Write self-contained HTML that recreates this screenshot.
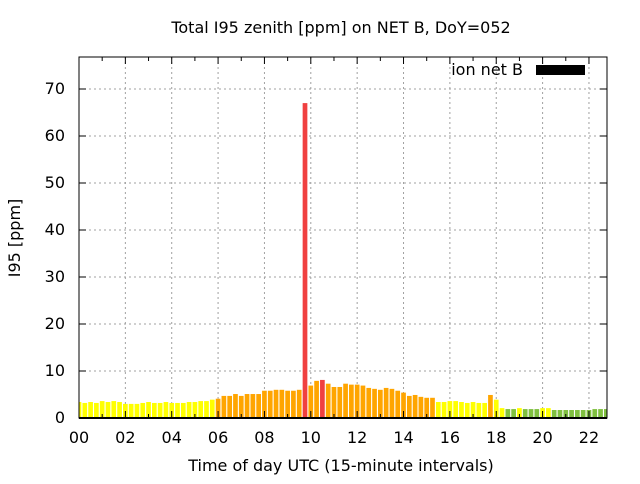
<!DOCTYPE html>
<html><head><meta charset="utf-8"><style>
body{margin:0;background:#fff;font-family:"DejaVu Sans",sans-serif;}
svg text{font-family:"DejaVu Sans",sans-serif;fill:#000;}
</style></head><body>
<svg id="chart" width="640" height="480" viewBox="0 0 640 480" xmlns="http://www.w3.org/2000/svg">
<rect width="640" height="480" fill="#fff"/>
<text x="341" y="33" font-size="16" text-anchor="middle">Total I95 zenith [ppm] on NET B, DoY=052</text>
<text x="20" y="238" font-size="16" text-anchor="middle" transform="rotate(-90 20 238)">I95 [ppm]</text>
<text x="341" y="471" font-size="16" text-anchor="middle">Time of day UTC (15-minute intervals)</text>
<g id="grid"></g>
<defs><clipPath id="pc"><rect x="79" y="57" width="528" height="361"/></clipPath></defs>
<g id="bars" clip-path="url(#pc)"></g>
<g id="axes"></g>
<text x="523" y="75" font-size="16" text-anchor="end">ion net B</text>
<rect x="536" y="65" width="49" height="10" fill="#000"/>
</svg>
<script>
const values=[3.4,3.2,3.4,3.2,3.6,3.4,3.6,3.4,3.0,3.0,3.0,3.2,3.4,3.2,3.2,3.4,3.2,3.2,3.2,3.4,3.4,3.6,3.6,3.9,
4.1,4.7,4.7,5.1,4.7,5.1,5.1,5.1,5.8,5.8,6.0,6.0,5.8,5.8,6.0,67.0,6.9,7.9,8.1,7.3,6.6,6.6,7.3,7.1,7.1,6.9,
6.4,6.2,6.0,6.4,6.2,5.8,5.4,4.7,4.9,4.5,4.3,4.3,3.4,3.4,3.6,3.6,3.4,3.2,3.4,3.2,3.2,4.9,3.9,2.1,1.9,1.9,
2.1,1.9,1.9,1.9,2.1,2.1,1.7,1.7,1.7,1.7,1.7,1.7,1.7,1.9,1.9,1.9];
const yTicks=[0,10,20,30,40,50,60,70];
const xTicks=["00","02","04","06","08","10","12","14","16","18","20","22"];
const L=79,R=607,T=57,B=418,pxH=23.18,pxV=4.7;
const xs=h=>L+h*pxH, ys=v=>B-v*pxV;
const NS="http://www.w3.org/2000/svg";
function mk(t,a,p){const e=document.createElementNS(NS,t);for(const k in a)e.setAttribute(k,a[k]);p.appendChild(e);return e;}
const grid=document.getElementById('grid'),axes=document.getElementById('axes'),bars=document.getElementById('bars');
yTicks.forEach(v=>{const y=ys(v);
 if(v>0){const g=mk('line',{x1:L,x2:R,y1:y,y2:y,stroke:'#a0a0a0','stroke-dasharray':'2,3'},grid);
 
 }
 mk('line',{x1:L,x2:L+7,y1:y,y2:y,stroke:'#000'},axes);mk('line',{x1:R,x2:R-7,y1:y,y2:y,stroke:'#000'},axes);
 const t=mk('text',{x:65,y:y+5,'font-size':16,'text-anchor':'end'},axes);t.textContent=v;
 
 });
xTicks.forEach((lab,i)=>{const x=xs(i*2);
 if(i>0){const g=mk('line',{x1:x,x2:x,y1:T,y2:B,stroke:'#a0a0a0','stroke-dasharray':'2,3'},grid);
 
 }
 const t=mk('text',{x:x,y:443,'font-size':16,'text-anchor':'middle'},axes);t.textContent=lab;
 
 });
for(let h=0;h<=22;h++){const x=xs(h);mk('line',{x1:x,x2:x,y1:B,y2:B-(h%2?4:7),stroke:'#000'},axes);mk('line',{x1:x,x2:x,y1:T,y2:T+(h%2?4:7),stroke:'#000'},axes);}
values.forEach((v,i)=>{const c=v>=8?'#f04040':v>=4?'#ffa500':v>=2?'#ffff00':'#80c040';
 const cx=xs(i/4),w=4.7;
 const r=mk('rect',{x:cx-w/2,y:ys(v),width:w,height:B-ys(v),fill:c},bars);
 
 });
const fr=mk('rect',{x:L,y:T,width:R-L,height:B-T,fill:'none',stroke:'#000','stroke-width':1},axes);


mk('line',{x1:L,x2:R,y1:B,y2:B,stroke:'#000','stroke-width':2},axes);
</script>
</body></html>
